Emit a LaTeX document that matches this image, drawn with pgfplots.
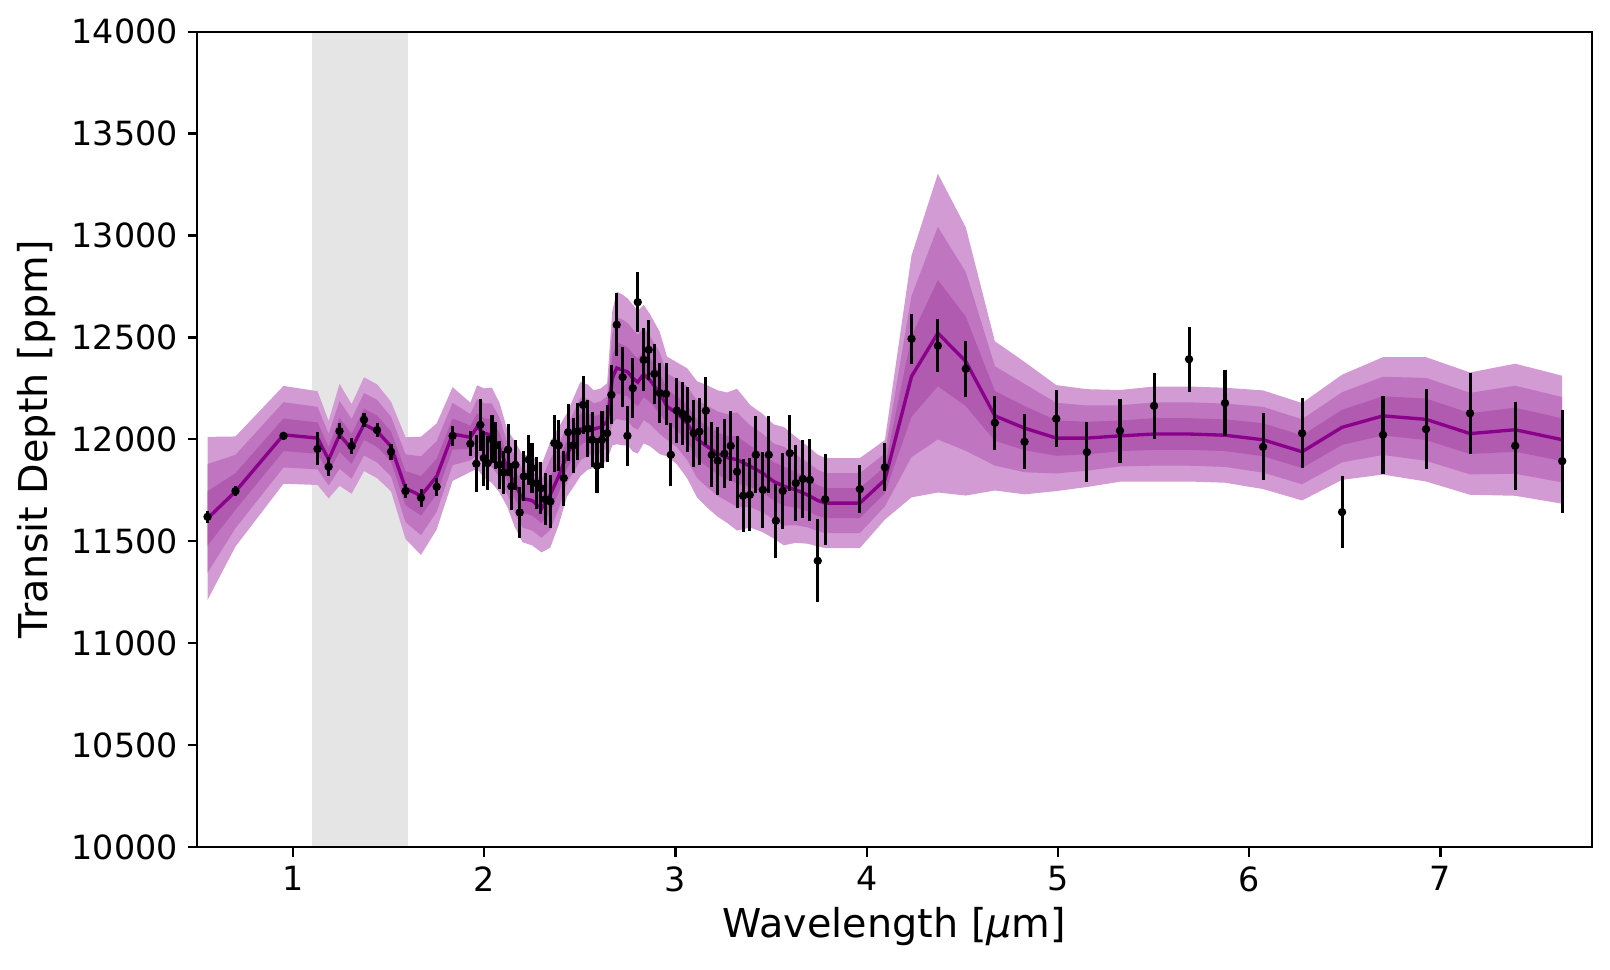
\documentclass[border=0pt]{standalone}
\usepackage{fontspec}
\setmainfont{DejaVu Sans}
\usepackage{pgfplots}
\usepackage{pgfplotstable}
\pgfplotsset{compat=1.18}
\usepgfplotslibrary{fillbetween}
\definecolor{c3}{RGB}{211,155,211}
\definecolor{c2}{RGB}{192,117,192}
\definecolor{c1}{RGB}{176,90,176}
\definecolor{c0}{RGB}{139,0,139}
\definecolor{gb}{RGB}{229,229,229}
\pgfplotstableread{
x m h
0.554 11612 400
0.700 11744 270
0.951 12022 240
1.129 12006 230
1.187 11900 190
1.244 12022 250
1.307 11953 220
1.372 12074 230
1.440 12040 230
1.513 11965 220
1.589 11760 250
1.670 11723 290
1.752 11818 260
1.835 12026 230
1.928 12010 170
1.963 12060 205
2.000 12030 220
2.040 12020 234
2.080 11960 220
2.120 11860 190
2.160 11780 210
2.200 11710 215
2.250 11700 220
2.300 11660 215
2.346 11729 260
2.390 11820 240
2.433 11924 204
2.470 11990 220
2.503 12050 231
2.540 12060 210
2.573 12050 190
2.610 12060 190
2.643 12087 188
2.670 12300 330
2.693 12350 374
2.724 12340 370
2.751 12330 360
2.777 12300 360
2.803 12280 350
2.834 12320 340
2.869 12288 323
2.918 12227 300
2.956 12161 245
3.007 12128 250
3.061 12079 270
3.113 12000 285
3.166 11965 300
3.221 11930 310
3.270 11910 320
3.322 11900 348
3.392 11867 300
3.457 11834 290
3.514 11793 280
3.567 11770 290
3.629 11752 260
3.689 11728 240
3.744 11700 225
3.783 11687 221
3.964 11687 221
4.095 11801 195
4.234 12308 593
4.372 12521 782
4.518 12382 658
4.670 12115 366
4.825 12055 325
4.991 12006 260
5.151 12006 240
5.324 12017 225
5.502 12026 233
5.685 12026 233
5.873 12020 233
6.072 11998 242
6.276 11939 239
6.485 12059 258
6.699 12115 288
6.924 12098 305
7.154 12028 300
7.390 12047 324
7.636 11998 314
}\model
\pgfplotstableread{
x y e
0.554 11620 30
0.700 11746 25
0.951 12017 20
1.129 11953 81
1.187 11865 46
1.244 12040 40
1.307 11967 40
1.372 12096 35
1.440 12045 35
1.513 11939 40
1.589 11746 35
1.670 11713 45
1.752 11767 45
1.835 12017 50
1.928 11978 61
1.959 11880 139
1.980 12071 127
1.998 11908 135
2.018 11883 131
2.041 12001 116
2.059 11970 115
2.081 11875 119
2.102 11837 106
2.125 11949 127
2.142 11769 115
2.163 11875 123
2.186 11641 123
2.207 11818 123
2.233 11900 123
2.250 11859 123
2.273 11785 127
2.297 11760 127
2.320 11706 127
2.346 11695 131
2.367 11981 139
2.390 11970 127
2.416 11810 135
2.439 12035 139
2.465 11970 135
2.489 12039 139
2.517 12169 143
2.542 12052 139
2.564 11998 135
2.590 11870 135
2.616 11998 139
2.643 12030 139
2.665 12218 145
2.693 12562 155
2.724 12305 147
2.749 12017 147
2.777 12251 147
2.803 12673 147
2.834 12390 155
2.860 12439 147
2.890 12321 147
2.918 12227 147
2.951 12223 151
2.976 11924 155
3.007 12141 160
3.037 12125 155
3.065 12099 160
3.096 12030 164
3.125 12038 164
3.159 12140 166
3.190 11924 160
3.221 11895 166
3.256 11929 170
3.289 11968 172
3.322 11841 176
3.354 11723 180
3.389 11728 180
3.420 11924 188
3.457 11752 186
3.488 11924 188
3.525 11600 182
3.561 11747 185
3.598 11932 188
3.629 11785 188
3.666 11806 193
3.703 11801 202
3.744 11404 204
3.783 11706 223
3.964 11756 119
4.095 11863 119
4.234 12493 122
4.372 12459 129
4.518 12346 137
4.670 12081 133
4.825 11988 136
4.991 12101 139
5.151 11937 147
5.324 12042 157
5.502 12164 162
5.685 12393 159
5.873 12178 160
6.072 11963 164
6.276 12030 172
6.485 11643 178
6.699 12022 190
6.924 12050 196
7.154 12128 198
7.390 11968 217
7.636 11893 253
}\data
\begin{document}
\begin{tikzpicture}
\begin{axis}[
  set layers, axis on top,
  scale only axis, width=502pt, height=293.5pt,
  xmin=0.5, xmax=7.79, ymin=10000, ymax=14000,
  xtick={1,2,3,4,5,6,7},
  ytick={10000,10500,11000,11500,12000,12500,13000,13500,14000},
  scaled y ticks=false,
  yticklabel style={/pgf/number format/fixed, /pgf/number format/precision=0},
  tick pos=left, tick align=outside, major tick length=3.5pt,
  tick style={black, line width=0.8pt},
  axis line style={line width=0.8pt},
  /pgf/number format/assume math mode=true,
  /pgf/number format/1000 sep={},
  ticklabel style={font=\fontsize{12}{14}\selectfont},
  label style={font=\fontsize{14.3}{17}\selectfont},
  xlabel={Wavelength [\textit{μ}m]},
  ylabel={Transit Depth [ppm]},
  xlabel style={at={(axis description cs:0.5,-0.098)}, anchor=center},
  ylabel style={at={(axis description cs:-0.1155,0.5)}, anchor=center},
]
\addplot[on layer=axis background, fill=gb, draw=none, forget plot] coordinates {(1.1,10000) (1.1,14000) (1.6,14000) (1.6,10000)} -- cycle;
\addplot[draw=none, name path=u3, forget plot] table[x=x, y expr=\thisrow{m}+\thisrow{h}] {\model};
\addplot[draw=none, name path=l3, forget plot] table[x=x, y expr=\thisrow{m}-\thisrow{h}] {\model};
\addplot[draw=none, name path=u2, forget plot] table[x=x, y expr=\thisrow{m}+2*\thisrow{h}/3] {\model};
\addplot[draw=none, name path=l2, forget plot] table[x=x, y expr=\thisrow{m}-2*\thisrow{h}/3] {\model};
\addplot[draw=none, name path=u1, forget plot] table[x=x, y expr=\thisrow{m}+\thisrow{h}/3] {\model};
\addplot[draw=none, name path=l1, forget plot] table[x=x, y expr=\thisrow{m}-\thisrow{h}/3] {\model};
\addplot[fill=c3, draw=none] fill between[of=u3 and l3];
\addplot[fill=c2, draw=none] fill between[of=u2 and l2];
\addplot[fill=c1, draw=none] fill between[of=u1 and l1];
\addplot[c0, line width=1.2pt] table[x=x, y=m] {\model};
\addplot[only marks, mark=*, mark size=1.3pt, black,
  error bars/.cd, y dir=both, y explicit, error mark=none,
  error bar style={line width=1.1pt, black}]
  table[x=x, y=y, y error=e] {\data};
\coordinate (SW) at (rel axis cs:0,0);
\coordinate (NE) at (rel axis cs:1,1);
\end{axis}
\pgfresetboundingbox
\path[use as bounding box] ([shift={(-71pt,-44.2pt)}]SW) rectangle ([shift={(6.6pt,11.4pt)}]NE);
\end{tikzpicture}
\end{document}
